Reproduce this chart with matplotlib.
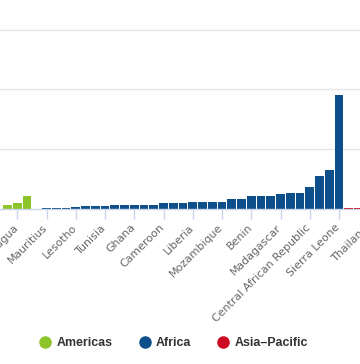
import matplotlib
matplotlib.use("Agg")
import matplotlib.pyplot as plt
from matplotlib.lines import Line2D
from matplotlib.transforms import ScaledTranslation
import numpy as np

# bar values (one unit = one gridline step)
values = [0.083, 0.100, 0.233, 0.0,
          0.022, 0.022, 0.022, 0.038, 0.050, 0.050, 0.050, 0.067, 0.067, 0.067,
          0.083, 0.083, 0.100, 0.100, 0.100, 0.117, 0.117, 0.133, 0.133, 0.167,
          0.167, 0.233, 0.233, 0.233, 0.250, 0.283, 0.283, 0.367, 0.550, 0.650,
          1.900,
          0.017, 0.017, 0.017]
regions = (["Americas"] * 3 + ["Africa"] * 32 + ["Asia-Pacific"] * 3)

# only every third category gets a label
tick_pos = [1, 4, 7, 10, 13, 16, 19, 22, 25, 28, 31, 34, 37]
tick_labels = ["Nicaragua", "Mauritius", "Lesotho", "Tunisia", "Ghana", "Cameroon",
               "Liberia", "Mozambique", "Benin", "Madagascar",
               "Central African Republic", "Sierra Leone", "Thailand"]

region_colors = {"Americas": "#8cc42a", "Africa": "#0d4f8b", "Asia-Pacific": "#cc0a22"}
legend_names = ["Americas", "Africa", "Asia\u2013Pacific"]

W, H = 360, 364
fig = plt.figure(figsize=(W / 100, H / 100), dpi=100)

# the chart is a crop: the plot area runs on past the right edge
base_px = 209.5   # baseline, px from top
grid_px = 60.0    # px per gridline step
ax_w = 420
ax = fig.add_axes([0, 1 - base_px / H, ax_w / W, base_px / H])

x = np.arange(len(values))
colors = [region_colors[r] for r in regions]
ax.bar(x, values, width=0.92, color=colors, zorder=2)

ax.set_yticks([1, 2, 3])
ax.yaxis.grid(True, color="#e6e6e6", linewidth=1, zorder=0)
ax.tick_params(axis="y", left=False, labelleft=False)

ax.set_xticks(tick_pos)
ax.set_xticklabels(tick_labels, rotation=45, ha="right", rotation_mode="default",
                   fontsize=7.9, color="#666666")
ax.tick_params(axis="x", length=7.2, width=1, color="#ccd6eb", pad=2)
shift = ScaledTranslation(3 / 100, 0, fig.dpi_scale_trans)
for lab in ax.get_xticklabels():
    lab.set_transform(lab.get_transform() + shift)

# limits last, set_xticks would widen them
pitch = 9.75
x0 = 7.5
ax.set_xlim((0 - x0) / pitch, (ax_w - x0) / pitch)
ax.set_ylim(0, base_px / grid_px)

for s in ["top", "right", "left"]:
    ax.spines[s].set_visible(False)
ax.spines["bottom"].set_color("#ccd6eb")
ax.spines["bottom"].set_linewidth(1)
ax.set_axisbelow(True)

handles = [Line2D([], [], marker="o", linestyle="", markersize=8,
                  color=region_colors[r]) for r in ["Americas", "Africa", "Asia-Pacific"]]
fig.legend(handles, legend_names, loc="center", bbox_to_anchor=(174 / W, 1 - 343 / H),
           ncol=3, frameon=False, handlelength=0.8, handletextpad=0.5,
           columnspacing=2.2, prop={"family": "Liberation Sans", "weight": "bold", "size": 8.9},
           labelcolor="#333333")

fig.savefig("out.png", dpi=100)
